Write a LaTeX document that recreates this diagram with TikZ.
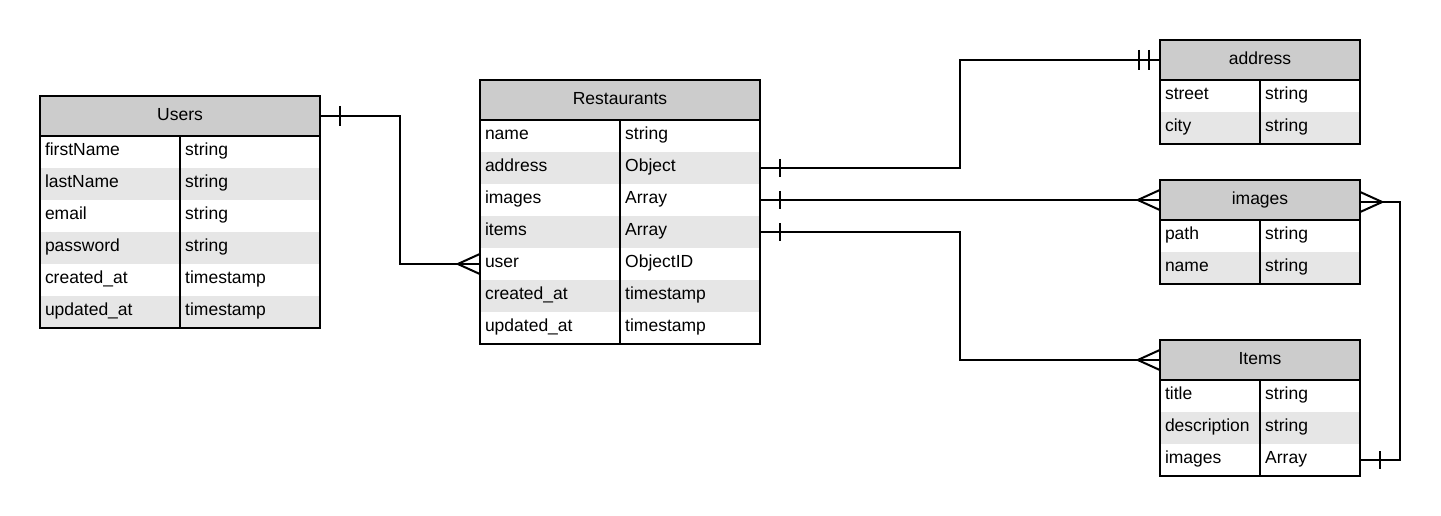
\documentclass[tikz,border=0pt]{standalone}
\usepackage{fontspec}
\setmainfont{Liberation Sans}
\usepackage{xcolor}
\usetikzlibrary{positioning, calc}

\definecolor{hdrgray}{HTML}{CCCCCC}
\definecolor{rowgray}{HTML}{E6E6E6}

\tikzset{
    hdr/.style={fill=hdrgray, minimum width=#1, minimum height=40pt, inner sep=0pt, text height=12.5pt, text depth=3.5pt},
    rowcell/.style={minimum width=#1, minimum height=32pt, inner sep=0pt},
    field/.style={anchor=west, inner sep=0pt, text height=12.5pt, text depth=3.5pt, yshift=1pt},
    link/.style={line width=2pt}
}

\begin{document}
\begin{tikzpicture}[x=1pt, y=-1pt, every node/.style={font=\fontsize{17.5}{20}\selectfont}]
\useasboundingbox (0,0) rectangle (1441,516);

% Users
\node[hdr=280pt] (users) at (180,116) {Users};
\foreach \f/\t [count=\i] in {firstName/string, lastName/string, email/string, password/string, created\_at/timestamp, updated\_at/timestamp} {
    \ifodd\i \def\rowfill{white}\else \def\rowfill{rowgray}\fi
    \node[rowcell=280pt, fill=\rowfill] (users-\i) at (180,136+\i*32-16) {};
    \node[field] (users-\i-f) at ([xshift=5pt]users-\i.west) {\f};
    \node[field] (users-\i-t) at ([xshift=5pt]users-\i.center) {\t};
}
\draw[link] (users.north west) rectangle (users-6.south east);
\draw[link] (users.south west) -- (users.south east);
\draw[link] (users.south) -- (users-6.south);

% Restaurants
\node[hdr=280pt] (rest) at (620,100) {Restaurants};
\foreach \f/\t [count=\i] in {name/string, address/Object, images/Array, items/Array, user/ObjectID, created\_at/timestamp, updated\_at/timestamp} {
    \ifodd\i \def\rowfill{white}\else \def\rowfill{rowgray}\fi
    \node[rowcell=280pt, fill=\rowfill] (rest-\i) at (620,120+\i*32-16) {};
    \node[field] (rest-\i-f) at ([xshift=5pt]rest-\i.west) {\f};
    \node[field] (rest-\i-t) at ([xshift=5pt]rest-\i.center) {\t};
}
\draw[link] (rest.north west) rectangle (rest-7.south east);
\draw[link] (rest.south west) -- (rest.south east);
\draw[link] (rest.south) -- (rest-7.south);

% address
\node[hdr=200pt] (address) at (1260,60) {address};
\foreach \f/\t [count=\i] in {street/string, city/string} {
    \ifodd\i \def\rowfill{white}\else \def\rowfill{rowgray}\fi
    \node[rowcell=200pt, fill=\rowfill] (address-\i) at (1260,80+\i*32-16) {};
    \node[field] (address-\i-f) at ([xshift=5pt]address-\i.west) {\f};
    \node[field] (address-\i-t) at ([xshift=5pt]address-\i.center) {\t};
}
\draw[link] (address.north west) rectangle (address-2.south east);
\draw[link] (address.south west) -- (address.south east);
\draw[link] (address.south) -- (address-2.south);

% images
\node[hdr=200pt] (images) at (1260,200) {images};
\foreach \f/\t [count=\i] in {path/string, name/string} {
    \ifodd\i \def\rowfill{white}\else \def\rowfill{rowgray}\fi
    \node[rowcell=200pt, fill=\rowfill] (images-\i) at (1260,220+\i*32-16) {};
    \node[field] (images-\i-f) at ([xshift=5pt]images-\i.west) {\f};
    \node[field] (images-\i-t) at ([xshift=5pt]images-\i.center) {\t};
}
\draw[link] (images.north west) rectangle (images-2.south east);
\draw[link] (images.south west) -- (images.south east);
\draw[link] (images.south) -- (images-2.south);

% Items
\node[hdr=200pt] (items) at (1260,360) {Items};
\foreach \f/\t [count=\i] in {title/string, description/string, images/Array} {
    \ifodd\i \def\rowfill{white}\else \def\rowfill{rowgray}\fi
    \node[rowcell=200pt, fill=\rowfill] (items-\i) at (1260,380+\i*32-16) {};
    \node[field] (items-\i-f) at ([xshift=5pt]items-\i.west) {\f};
    \node[field] (items-\i-t) at ([xshift=5pt]items-\i.center) {\t};
}
\draw[link] (items.north west) rectangle (items-3.south east);
\draw[link] (items.south west) -- (items.south east);
\draw[link] (items.south) -- (items-3.south);

% Users -- Restaurants
\draw[link] (users.east) -- ++(80,0) |- (rest-5.west);
\draw[link] ([xshift=20pt]users.east) ++(0,-10) -- ++(0,20);
\draw[link] ([xshift=-22pt]rest-5.west) -- ([yshift=10pt]rest-5.west);
\draw[link] ([xshift=-22pt]rest-5.west) -- ([yshift=-10pt]rest-5.west);

% Restaurants -- address
\draw[link] (rest-2.east) -- ++(200,0) |- (address.west);
\draw[link] ([xshift=20pt]rest-2.east) ++(0,-9) -- ++(0,18);
\draw[link] ([xshift=-21pt]address.west) ++(0,-10) -- ++(0,20);
\draw[link] ([xshift=-11pt]address.west) ++(0,-10) -- ++(0,20);

% Restaurants -- images
\draw[link] (rest-3.east) -- (images.west);
\draw[link] ([xshift=20pt]rest-3.east) ++(0,-9) -- ++(0,18);
\draw[link] ([xshift=-22pt]images.west) -- ([yshift=10pt]images.west);
\draw[link] ([xshift=-22pt]images.west) -- ([yshift=-10pt]images.west);

% Restaurants -- Items
\draw[link] (rest-4.east) -- ++(200,0) |- (items.west);
\draw[link] ([xshift=20pt]rest-4.east) ++(0,-9) -- ++(0,18);
\draw[link] ([xshift=-22pt]items.west) -- ([yshift=10pt]items.west);
\draw[link] ([xshift=-22pt]items.west) -- ([yshift=-10pt]items.west);

% Items -- images
\draw[link] (items-3.east) -- ++(40,0) |- ([yshift=-2pt]images.east);
\draw[link] ([xshift=20pt]items-3.east) ++(0,-9) -- ++(0,18);
\draw[link] ([xshift=22pt,yshift=-2pt]images.east) -- ([yshift=8pt]images.east);
\draw[link] ([xshift=22pt,yshift=-2pt]images.east) -- ([yshift=-12pt]images.east);
\end{tikzpicture}
\end{document}
